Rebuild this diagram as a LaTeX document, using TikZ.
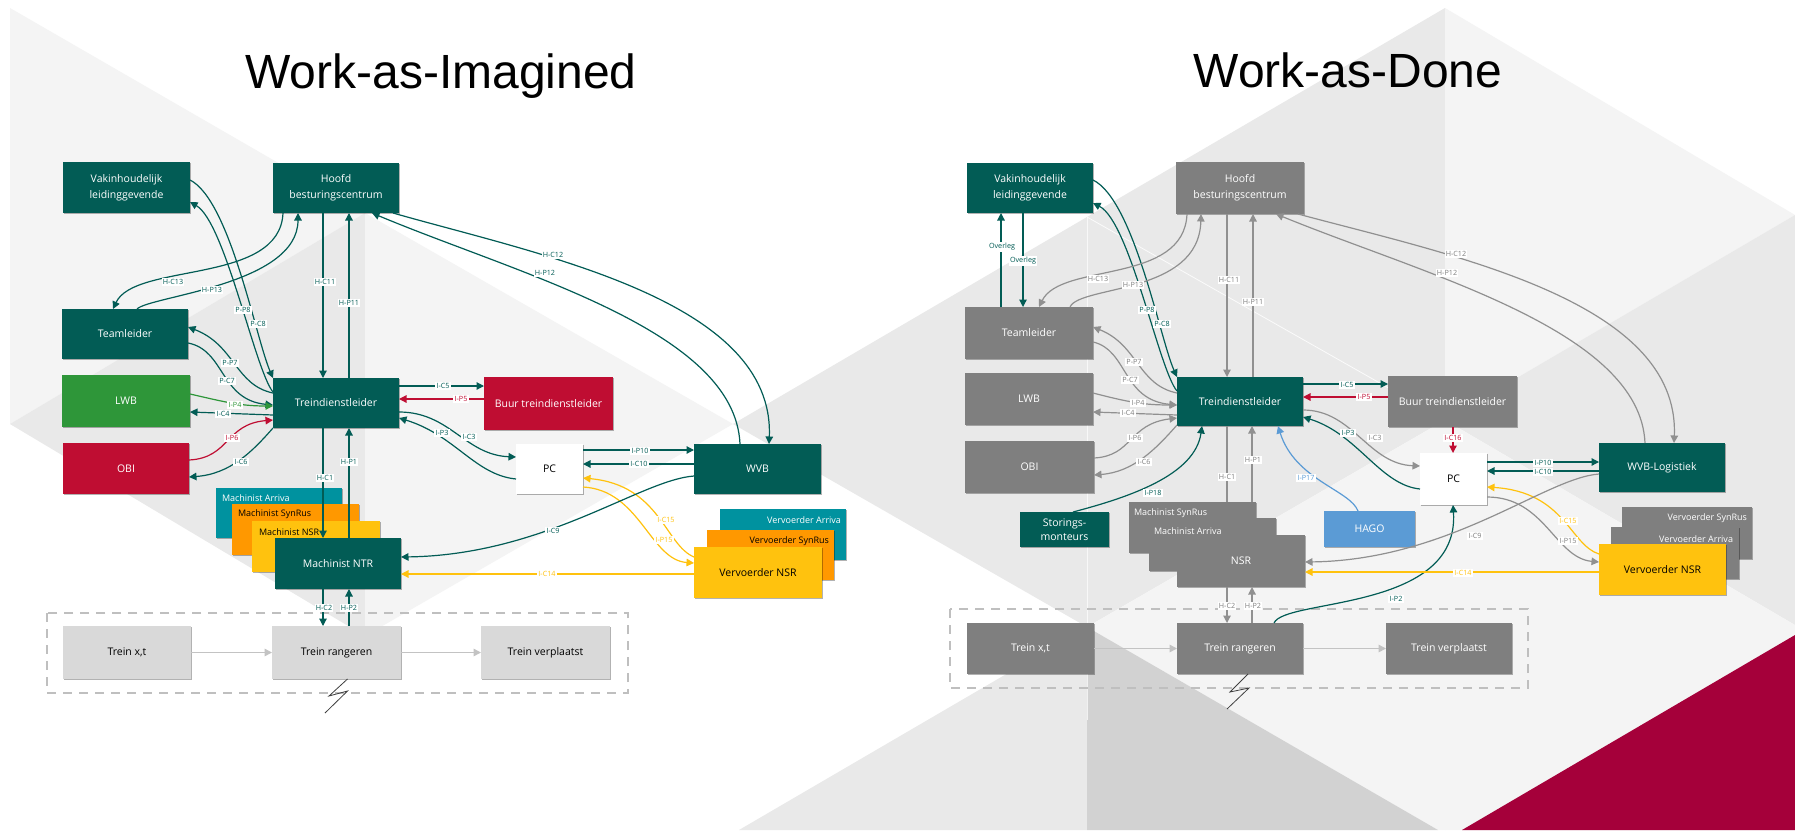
\documentclass[tikz,border=0pt]{standalone}
\usepackage{fontspec}
\setmainfont{Open Sans}
\newfontfamily\titlefont{Liberation Sans}
\usetikzlibrary{arrows.meta,shadows}
\definecolor{cdark}{HTML}{025C55}
\definecolor{cgrey}{HTML}{7F7F7F}
\definecolor{cline}{HTML}{909090}
\definecolor{cred}{HTML}{BF0D32}
\definecolor{cgreen}{HTML}{2E9639}
\definecolor{cteal}{HTML}{00929F}
\definecolor{corange}{HTML}{FF9800}
\definecolor{cyellow}{HTML}{FFC20E}
\definecolor{cblue}{HTML}{5B9BD5}
\definecolor{clight}{HTML}{D9D9D9}
\definecolor{cdeep}{HTML}{A5003A}
\definecolor{bgA}{HTML}{F4F4F4}
\definecolor{bgB}{HTML}{E9E9E9}
\definecolor{bgC}{HTML}{D2D2D2}
\tikzset{
  boxn/.style={rectangle,inner sep=0pt,outer sep=0pt,align=center,text=white,
    font=\fontsize{10.5}{16}\selectfont,
    drop shadow={shadow xshift=1pt,shadow yshift=-1pt,opacity=.3,fill=black}},
  fdark/.style={fill=cdark},
  fgrey/.style={fill=cgrey},
  fred/.style={fill=cred},
  fgreen/.style={fill=cgreen},
  fteal/.style={fill=cteal},
  forange/.style={fill=corange,text=black},
  fyellow/.style={fill=cyellow,text=black},
  fblue/.style={fill=cblue},
  flight/.style={fill=clight,text=black},
  fwhite/.style={fill=white,text=black},
  tag/.style={inner sep=0pt,outer sep=0pt,font=\fontsize{9}{10}\selectfont},
  lab/.style={fill=white,inner sep=1.2pt,font=\fontsize{7.2}{8}\selectfont},
  conn/.style={line width=1.2pt,-{Triangle[length=7.5pt,width=7.5pt]}},
  cdk/.style={conn,draw=cdark},
  cgr/.style={conn,draw=cline},
  crd/.style={conn,draw=cred},
  cyl/.style={conn,draw=cyellow},
  cgn/.style={conn,draw=cgreen},
  cbl/.style={conn,draw=cblue},
  cfl/.style={conn,line width=1.5pt,draw=clight!90!black},
  zap/.style={draw=black!75,line width=.8pt},
  frame/.style={draw=black!25,line width=1.2pt,dash pattern=on 9pt off 7pt},
}
\newcommand{\mybox}[7]{%
  \pgfmathsetmacro\bxw{#3-#2}\pgfmathsetmacro\bxh{#5-#4}%
  \pgfmathsetmacro\bxx{(#2+#3)/2}\pgfmathsetmacro\bxy{(#4+#5)/2}%
  \node[boxn,#6,minimum width=\bxw pt,minimum height=\bxh pt] (#1) at (\bxx,\bxy) {#7};}
\newcommand{\mylab}[5]{\node[lab,text=#5] (#1) at (#2,#3) {#4};}
\begin{document}
\begin{tikzpicture}[x=1pt,y=-1pt]
\useasboundingbox (0,0) rectangle (1795,830);
% background facets
\fill[white] (0,0) rectangle (1795,830);
\fill[bgA] (10,8) -- (365,213) -- (10,424) -- cycle;
\fill[bgB] (10,424) -- (365,213) -- (365,636) -- cycle;
\fill[bgA] (365,213) -- (733,424) -- (365,636) -- cycle;
\fill[bgB] (733,424) -- (1087,217) -- (1087,627) -- cycle;
\fill[bgB] (1087,217) -- (1445,8) -- (1445,420) -- cycle;
\fill[bgB] (1087,217) -- (1445,420) -- (1087,627) -- cycle;
\fill[bgA] (1445,8) -- (1795,215) -- (1445,420) -- cycle;
\fill[bgB] (1795,215) -- (1795,625) -- (1445,420) -- cycle;
\fill[bgA] (1445,420) -- (1087,627) -- (1438,830) -- (1445,830) -- cycle;
\fill[bgA] (1445,420) -- (1795,625) -- (1795,830) -- (1445,830) -- cycle;
\fill[bgB] (739,830) -- (1087,627) -- (1087,830) -- cycle;
\fill[bgC] (1087,627) -- (1087,830) -- (1438,830) -- cycle;
\fill[cdeep] (1795,635) -- (1795,830) -- (1462,830) -- cycle;
\draw[white,opacity=.7,line width=.8pt] (1087,217) -- (1087,720);
\draw[white,opacity=.8,line width=.8pt] (1087,217) -- (1445,420);
% titles
\node[font=\titlefont\fontsize{48}{50}\selectfont,anchor=base,inner sep=0pt] (ttlA) at (441,88) {Work-as-Imagined};
\node[font=\titlefont\fontsize{48}{50}\selectfont,anchor=base,inner sep=0pt] (ttlB) at (1348,87) {Work-as-Done};
% frames
\draw[frame] (47,613) rectangle (628,693);
\draw[frame] (950,609) rectangle (1528,688);
% left boxes
\mybox{aVak}{63}{190}{162}{213}{fdark}{Vakinhoudelijk\\leidinggevende}
\mybox{aHfd}{273}{399}{163}{213}{fdark}{Hoofd\\besturingscentrum}
\mybox{aTeam}{62}{188}{309}{359}{fdark}{Teamleider}
\mybox{aLWB}{62}{190}{375}{427}{fgreen}{LWB}
\mybox{aOBI}{63}{189}{443}{494}{fred}{OBI}
\mybox{aTrd}{273}{399}{378}{428}{fdark}{Treindienstleider}
\mybox{aBuur}{484}{613}{377}{430}{fred}{Buur treindienstleider}
\mybox{aPC}{516}{583}{444}{494}{fwhite}{PC}
\mybox{aWVB}{694}{821}{444}{494}{fdark}{WVB}
\mybox{aMA}{216}{342}{488}{538}{fteal}{}
\mybox{aMS}{232}{359}{504}{555}{forange}{}
\mybox{aMN}{252}{380}{521}{572}{fyellow}{}
\mybox{aNTR}{275}{401}{538}{589}{fdark}{Machinist NTR}
\mybox{aVA}{720}{846}{509}{560}{fteal}{}
\mybox{aVS}{707}{834}{530}{580}{forange}{}
\mybox{aVN}{694}{822}{547}{598}{fyellow}{Vervoerder NSR}
\mybox{aTx}{63}{191}{626}{679}{flight}{Trein x,t}
\mybox{aTr}{272}{401}{626}{679}{flight}{Trein rangeren}
\mybox{aTv}{481}{610}{626}{679}{flight}{Trein verplaatst}
\node[tag,text=white,anchor=west] (atMA) at (222,498) {Machinist Arriva};
\node[tag,text=black,anchor=west] (atMS) at (238,514) {Machinist SynRus};
\node[tag,text=black,anchor=west] (atMN) at (259,532) {Machinist NSR};
\node[tag,text=white,anchor=east] (atVA) at (841,520) {Vervoerder Arriva};
\node[tag,text=black,anchor=east] (atVS) at (829,541) {Vervoerder SynRus};
% right boxes
\mybox{bVak}{967}{1093}{163}{213}{fdark}{Vakinhoudelijk\\leidinggevende}
\mybox{bHfd}{1176}{1304}{162}{214}{fgrey}{Hoofd\\besturingscentrum}
\mybox{bTeam}{965}{1093}{307}{359}{fgrey}{Teamleider}
\mybox{bLWB}{965}{1093}{373}{425}{fgrey}{LWB}
\mybox{bOBI}{965}{1094}{441}{493}{fgrey}{OBI}
\mybox{bTrd}{1177}{1303}{377}{426}{fdark}{Treindienstleider}
\mybox{bBuur}{1388}{1517}{376}{427}{fgrey}{Buur treindienstleider}
\mybox{bPC}{1420}{1487}{453}{505}{fwhite}{PC}
\mybox{bHAGO}{1324}{1415}{511}{547}{fblue}{HAGO}
\mybox{bStor}{1020}{1109}{512}{547}{fdark,font=\fontsize{10.5}{14}\selectfont}{Storings-\\monteurs}
\mybox{bMS}{1129}{1256}{502}{553}{fgrey}{}
\mybox{bMA}{1149}{1276}{518}{571}{fgrey}{}
\mybox{bNSR}{1177}{1305}{535}{587}{fgrey}{NSR}
\mybox{bWVB}{1599}{1725}{443}{492}{fdark}{WVB-Logistiek}
\mybox{bVS}{1622}{1752}{507}{559}{fgrey}{}
\mybox{bVA}{1611}{1739}{527}{579}{fgrey}{}
\mybox{bVN}{1599}{1726}{544}{595}{fyellow}{Vervoerder NSR}
\mybox{bTx}{967}{1094}{623}{674}{fgrey}{Trein x,t}
\mybox{bTr}{1177}{1303}{623}{674}{fgrey}{Trein rangeren}
\mybox{bTv}{1386}{1512}{623}{674}{fgrey}{Trein verplaatst}
\node[tag,text=white,anchor=west] (btMS) at (1134,513) {Machinist SynRus};
\node[tag,text=white,anchor=west] (btMA) at (1154,531) {Machinist Arriva};
\node[tag,text=white,anchor=east] (btVS) at (1747,518) {Vervoerder SynRus};
\node[tag,text=white,anchor=east] (btVA) at (1733,539) {Vervoerder Arriva};
% left connectors
\draw[cdk] (aVak.east |- 0,180) .. controls (230,200) and (256,339) .. (aTrd.north west |- 0,378);
\draw[cdk] (aTrd.west |- 0,392) .. controls (255,370) and (225,222) .. (aVak.east |- 0,202);
\draw[cdk] (aHfd.south -| 283,0) .. controls (280,285) and (135,262) .. (aTeam.north -| 113,0);
\draw[cdk] (aTeam.north -| 137,0) .. controls (150,296) and (298,285) .. (aHfd.south -| 298,0);
\draw[cdk] (aHfd.south -| 323,0) -- (aTrd.north -| 323,0);
\draw[cdk] (aTrd.north -| 349,0) -- (aHfd.south -| 349,0);
\draw[cdk] (aHfd.south -| 393,0) .. controls (540,255) and (775,300) .. (aWVB.north -| 769,0);
\draw[cdk] (aWVB.north -| 740,0) .. controls (735,330) and (520,275) .. (aHfd.south -| 372,0);
\draw[cdk] (aTrd.west |- 0,393) .. controls (235,385) and (235,345) .. (aTeam.east |- 0,327);
\draw[cdk] (aTeam.east |- 0,343) .. controls (225,350) and (220,400) .. (aTrd.west |- 0,405);
\draw[cgn] (aLWB.east |- 0,394) .. controls (225,402) and (240,406) .. (aTrd.west |- 0,406);
\draw[cdk] (aTrd.west |- 0,415) -- (aLWB.east |- 0,412);
\draw[crd] (aOBI.east |- 0,460) .. controls (230,458) and (225,424) .. (aTrd.west |- 0,420);
\draw[cdk] (aTrd.west |- 0,428) .. controls (252,452) and (230,474) .. (aOBI.east |- 0,477);
\draw[cdk] (aTrd.south -| 323,0) -- (aNTR.north -| 323,0);
\draw[cdk] (aNTR.north -| 349,0) -- (aTrd.south -| 349,0);
\draw[cdk] (aNTR.south -| 323,0) -- (aTr.north -| 323,0);
\draw[cdk] (aTr.north -| 349,0) -- (aNTR.south -| 349,0);
\draw[cdk] (aTrd.east |- 0,386) -- (aBuur.west |- 0,386);
\draw[crd] (aBuur.west |- 0,399) -- (aTrd.east |- 0,399);
\draw[cdk] (aTrd.east |- 0,412) .. controls (450,412) and (465,455) .. (aPC.west |- 0,457);
\draw[cdk] (aPC.west |- 0,479) .. controls (475,475) and (455,435) .. (aTrd.east |- 0,418);
\draw[cdk] (aPC.east |- 0,450) -- (aWVB.west |- 0,450);
\draw[cdk] (aWVB.west |- 0,464) -- (aPC.east |- 0,464);
\draw[cyl] (aVN.west |- 0,557) .. controls (665,545) and (660,485) .. (aPC.east |- 0,478);
\draw[cyl] (aPC.east |- 0,487) .. controls (640,490) and (650,560) .. (aVN.west |- 0,563);
\draw[cdk] (aWVB.west |- 0,476) .. controls (640,480) and (545,555) .. (aNTR.east |- 0,557);
\draw[cyl] (aVN.west |- 0,574) -- (aNTR.east |- 0,574);
\draw[cfl] (aTx) -- (aTr);
\draw[cfl] (aTr) -- (aTv);
\coordinate (aZa) at (329,696); \coordinate (aZb) at (347.5,691); \coordinate (aZc) at (325,713);
\draw[zap] (aTr.south -| 347.5,0) -- (aZa) -- (aZb) -- (aZc);
% left labels
\mylab{alPC8}{258}{324}{P-C8}{cdark}
\mylab{alPP8}{243}{310}{P-P8}{cdark}
\mylab{alHC13}{173}{282}{H-C13}{cdark}
\mylab{alHP13}{212}{290}{H-P13}{cdark}
\mylab{alHC11}{325}{282}{H-C11}{cdark}
\mylab{alHP11}{349}{303}{H-P11}{cdark}
\mylab{alHC12}{553}{255}{H-C12}{cdark}
\mylab{alHP12}{545}{273}{H-P12}{cdark}
\mylab{alPP7}{230}{363}{P-P7}{cdark}
\mylab{alPC7}{227}{381}{P-C7}{cdark}
\mylab{alIP4}{235}{405}{I-P4}{cgreen}
\mylab{alIC4}{223}{414}{I-C4}{cdark}
\mylab{alIP6}{232}{438}{I-P6}{cred}
\mylab{alIC6}{241}{462}{I-C6}{cdark}
\mylab{alHC1}{325}{478}{H-C1}{cdark}
\mylab{alHP1}{349}{462}{H-P1}{cdark}
\mylab{alHC2}{324}{608}{H-C2}{cdark}
\mylab{alHP2}{349}{608}{H-P2}{cdark}
\mylab{alIC5}{443}{386}{I-C5}{cdark}
\mylab{alIP5}{461}{399}{I-P5}{cred}
\mylab{alIC3}{469}{437}{I-C3}{cdark}
\mylab{alIP3}{442}{433}{I-P3}{cdark}
\mylab{alIP10}{640}{451}{I-P10}{cdark}
\mylab{alIC10}{639}{464}{I-C10}{cdark}
\mylab{alIC15}{666}{520}{I-C15}{cyellow}
\mylab{alIP15}{664}{540}{I-P15}{cyellow}
\mylab{alIC9}{553}{531}{I-C9}{cdark}
\mylab{alIC14}{547}{574}{I-C14}{cyellow}
% right connectors
\draw[cdk] (bTeam.north -| 1001,0) -- (bVak.south -| 1001,0);
\draw[cdk] (bVak.south -| 1023,0) -- (bTeam.north -| 1023,0);
\draw[cdk] (bVak.east |- 0,180) .. controls (1134,200) and (1160,339) .. (bTrd.north west |- 0,377);
\draw[cdk] (bTrd.west |- 0,391) .. controls (1159,370) and (1130,222) .. (bVak.east |- 0,203);
\draw[cgr] (bHfd.south -| 1187,0) .. controls (1184,285) and (1061,262) .. (bTeam.north -| 1039,0);
\draw[cgr] (bTeam.north -| 1070,0) .. controls (1080,285) and (1199,295) .. (bHfd.south -| 1201,0);
\draw[cgr] (bHfd.south -| 1227,0) -- (bTrd.north -| 1227,0);
\draw[cgr] (bTrd.north -| 1253,0) -- (bHfd.south -| 1253,0);
\draw[cgr] (bHfd.south -| 1298,0) .. controls (1450,255) and (1680,300) .. (bWVB.north -| 1674,0);
\draw[cgr] (bWVB.north -| 1645,0) .. controls (1640,330) and (1425,275) .. (bHfd.south -| 1276,0);
\draw[cgr] (bTrd.west |- 0,393) .. controls (1138,385) and (1138,345) .. (bTeam.east |- 0,327);
\draw[cgr] (bTeam.east |- 0,342) .. controls (1128,350) and (1122,400) .. (bTrd.west |- 0,405);
\draw[cgr] (bLWB.east |- 0,393) .. controls (1128,402) and (1143,405) .. (bTrd.west |- 0,405);
\draw[cgr] (bTrd.west |- 0,415) -- (bLWB.east |- 0,412);
\draw[cgr] (bOBI.east |- 0,458) .. controls (1133,456) and (1128,424) .. (bTrd.west |- 0,418);
\draw[cgr] (bTrd.west |- 0,425) .. controls (1155,450) and (1133,472) .. (bOBI.east |- 0,475);
\draw[cdk] (bStor.north -| 1073,0) .. controls (1130,497) and (1195,475) .. (bTrd.south -| 1202,0);
\draw[cgr,arrows=-] (bTrd.south -| 1227,0) -- (bMS.north -| 1227,0);
\draw[cgr] (bMS.north -| 1252,0) -- (bTrd.south -| 1252,0);
\draw[cbl] (bHAGO.north -| 1358,0) .. controls (1350,490) and (1295,480) .. (bTrd.south -| 1278,0);
\draw[cgr] (bNSR.south -| 1227,0) -- (bTr.north -| 1227,0);
\draw[cgr] (bTr.north -| 1252,0) -- (bNSR.south -| 1252,0);
\draw[cdk] (bTr.north -| 1274,0) .. controls (1285,598) and (1460,612) .. (bPC.south -| 1453,0);
\draw[cdk] (bTrd.east |- 0,384) -- (bBuur.west |- 0,384);
\draw[crd] (bBuur.west |- 0,397) -- (bTrd.east |- 0,397);
\draw[crd] (bBuur.south -| 1453,0) -- (bPC.north -| 1453,0);
\draw[cgr] (bTrd.east |- 0,410) .. controls (1353,410) and (1368,464) .. (bPC.west |- 0,466);
\draw[cdk] (bPC.west |- 0,489) .. controls (1380,485) and (1358,434) .. (bTrd.east |- 0,417);
\draw[cdk] (bPC.east |- 0,462) -- (bWVB.west |- 0,462);
\draw[cdk] (bWVB.west |- 0,471) -- (bPC.east |- 0,471);
\draw[cyl] (bVN.west |- 0,554) .. controls (1570,545) and (1565,492) .. (bPC.east |- 0,487);
\draw[cgr] (bPC.east |- 0,497) .. controls (1545,497) and (1555,558) .. (bVN.west |- 0,562);
\draw[cgr] (bWVB.west |- 0,474) .. controls (1545,478) and (1450,560) .. (bNSR.east |- 0,562);
\draw[cyl] (bVN.west |- 0,572) -- (bNSR.east |- 0,572);
\draw[cfl] (bTx) -- (bTr);
\draw[cfl] (bTr) -- (bTv);
\coordinate (bZa) at (1230,692); \coordinate (bZb) at (1249,688); \coordinate (bZc) at (1227,709);
\draw[zap] (bTr.south -| 1248,0) -- (bZa) -- (bZb) -- (bZc);
% right labels
\mylab{blOa}{1002}{247}{Overleg}{cdark}
\mylab{blOb}{1023}{261}{Overleg}{cdark}
\mylab{blPC8}{1162}{324}{P-C8}{cdark}
\mylab{blPP8}{1147}{310}{P-P8}{cdark}
\mylab{blHC13}{1098}{279}{H-C13}{cgrey}
\mylab{blHP13}{1133}{285}{H-P13}{cgrey}
\mylab{blHC11}{1229}{280}{H-C11}{cgrey}
\mylab{blHP11}{1253}{302}{H-P11}{cgrey}
\mylab{blHC12}{1456}{254}{H-C12}{cgrey}
\mylab{blHP12}{1447}{273}{H-P12}{cgrey}
\mylab{blPP7}{1134}{362}{P-P7}{cgrey}
\mylab{blPC7}{1130}{380}{P-C7}{cgrey}
\mylab{blIP4}{1138}{403}{I-P4}{cgrey}
\mylab{blIC4}{1128}{413}{I-C4}{cgrey}
\mylab{blIP6}{1135}{438}{I-P6}{cgrey}
\mylab{blIC6}{1144}{462}{I-C6}{cgrey}
\mylab{blIP18}{1153}{493}{I-P18}{cdark}
\mylab{blHC1}{1227}{477}{H-C1}{cgrey}
\mylab{blHP1}{1253}{460}{H-P1}{cgrey}
\mylab{blIP17}{1306}{478}{I-P17}{cblue}
\mylab{blHC2}{1227}{606}{H-C2}{cgrey}
\mylab{blHP2}{1253}{606}{H-P2}{cgrey}
\mylab{blIP2}{1396}{599}{I-P2}{cdark}
\mylab{blIC5}{1347}{385}{I-C5}{cdark}
\mylab{blIP5}{1364}{397}{I-P5}{cred}
\mylab{blIC16}{1453}{438}{I-C16}{cred}
\mylab{blIC3}{1375}{438}{I-C3}{cgrey}
\mylab{blIP3}{1348}{433}{I-P3}{cdark}
\mylab{blIP10}{1543}{463}{I-P10}{cdark}
\mylab{blIC10}{1543}{472}{I-C10}{cdark}
\mylab{blIC15}{1568}{521}{I-C15}{cyellow}
\mylab{blIP15}{1568}{541}{I-P15}{cgrey}
\mylab{blIC9}{1475}{536}{I-C9}{cgrey}
\mylab{blIC14}{1463}{573}{I-C14}{cyellow}
\end{tikzpicture}
\end{document}
